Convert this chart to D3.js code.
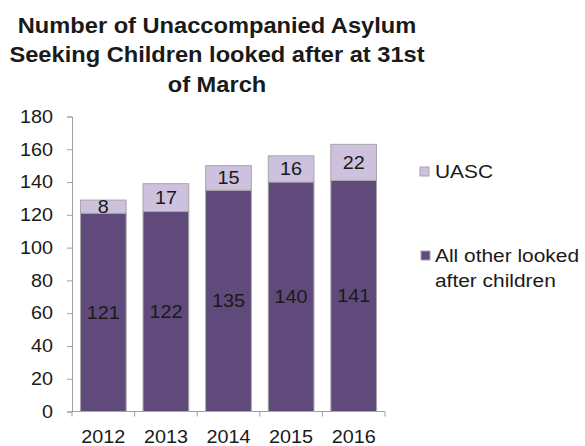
<!DOCTYPE html>
<html><head><meta charset="utf-8">
<script src="https://cdn.jsdelivr.net/npm/d3@7"></script>
<style>body{margin:0;background:#fff}svg{display:block}text{font-family:"Liberation Sans",Arial,sans-serif}</style>
</head><body><svg id="c" width="585" height="446"></svg>
<script>
const years = ["2012","2013","2014","2015","2016"];
const otherChildren = [121,122,135,140,141];
const uasc = [8,17,15,16,22];
const yTicks = [0,20,40,60,80,100,120,140,160,180];
const seriesNames = ["UASC","All other looked after children"];

const SX = 1.1; // horizontal stretch of the reference's text
const svg = d3.select("#c");
const x = d3.scaleBand().domain(years).range([72,385]).paddingInner(0.27).paddingOuter(0.135);
const y = d3.scaleLinear().domain([0,180]).range([411.5,116.5]);
const cDark = "#5f4a7b", cLight = "#cdc1de", stroke = "#a6a6a6", ink = "#1a1a1a";
const FF = "Liberation Sans, Arial, sans-serif";

function stretchText(sel, xf, yf){
  sel.attr("transform", (d,i)=>`translate(${xf(d,i)},${yf(d,i)}) scale(${SX},1)`).attr("x",0).attr("y",0);
}

// title
const title = ["Number of Unaccompanied Asylum","Seeking Children looked after at 31st","of March"];
svg.append("g").attr("transform",`translate(217,33) scale(${SX},1)`)
  .append("text").attr("text-anchor","middle")
  .attr("font-size",21.5).attr("font-weight","bold").attr("fill",ink)
  .selectAll("tspan").data(title).join("tspan").attr("x",0).attr("dy",(d,i)=>i?29.5:0).text(d=>d);

// y axis
const yAxis = svg.append("g").attr("transform","translate(72,0)")
  .call(d3.axisLeft(y).tickValues(yTicks).tickSize(5));
yAxis.select(".domain").attr("stroke","#a0a0a0");
yAxis.selectAll(".tick line").attr("stroke","#a0a0a0");
yAxis.selectAll("text").attr("font-size",18).attr("fill",ink).attr("font-family",FF)
  .attr("x",-19/SX).attr("transform",`scale(${SX},1)`);

// x axis
const xAxis = svg.append("g").attr("transform","translate(0,411.5)")
  .call(d3.axisBottom(x).tickSize(0).tickPadding(18.7));
xAxis.select(".domain").attr("stroke","#a0a0a0").attr("d","M72,0H385");
xAxis.selectAll("text").attr("font-size",18).attr("fill",ink).attr("font-family",FF)
  .attr("transform",`scale(${SX},1)`);
const bounds = d3.range(years.length+1).map(i=>72+i*(313/years.length));
svg.append("g").selectAll("line").data(bounds).join("line")
  .attr("x1",d=>d).attr("x2",d=>d).attr("y1",411.5).attr("y2",416.5).attr("stroke","#a0a0a0");

// bars
const data = years.map((yr,i)=>({yr, o:otherChildren[i], u:uasc[i]}));
const g = svg.append("g");
g.selectAll("rect.o").data(data).join("rect").attr("class","o")
  .attr("x",d=>x(d.yr)).attr("width",x.bandwidth())
  .attr("y",d=>y(d.o)).attr("height",d=>y(0)-y(d.o))
  .attr("fill",cDark).attr("stroke",stroke).attr("stroke-width",1);
g.selectAll("rect.u").data(data).join("rect").attr("class","u")
  .attr("x",d=>x(d.yr)).attr("width",x.bandwidth())
  .attr("y",d=>y(d.o+d.u)).attr("height",d=>y(d.o)-y(d.o+d.u))
  .attr("fill",cLight).attr("stroke",stroke).attr("stroke-width",1);
g.selectAll("text.o").data(data).join("text").attr("class","o")
  .attr("dy","0.35em").attr("text-anchor","middle").attr("font-size",18).attr("fill",ink).text(d=>d.o)
  .call(stretchText, d=>x(d.yr)+x.bandwidth()/2, d=>y(d.o/2));
g.selectAll("text.u").data(data).join("text").attr("class","u")
  .attr("dy","0.35em").attr("text-anchor","middle").attr("font-size",18).attr("fill",ink).text(d=>d.u)
  .call(stretchText, d=>x(d.yr)+x.bandwidth()/2, d=>y(d.o+d.u/2));

// legend
const leg = svg.append("g");
leg.append("rect").attr("x",420).attr("y",167).attr("width",9).attr("height",9)
  .attr("fill",cLight).attr("stroke",stroke);
leg.append("g").attr("transform",`translate(435,178) scale(${SX},1)`)
  .append("text").attr("font-size",19).attr("fill",ink).text(seriesNames[0]);
leg.append("rect").attr("x",421).attr("y",251).attr("width",9).attr("height",9)
  .attr("fill",cDark).attr("stroke",stroke);
leg.append("g").attr("transform",`translate(435,262) scale(${SX},1)`)
  .append("text").attr("font-size",19).attr("fill",ink)
  .selectAll("tspan").data(["All other looked","after children"]).join("tspan")
  .attr("x",0).attr("dy",(d,i)=>i?25:0).text(d=>d);
</script></body></html>
